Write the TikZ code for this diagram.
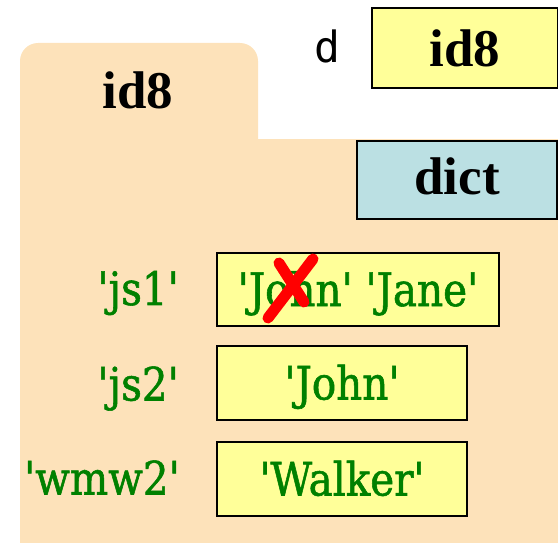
\documentclass[tikz,border=0pt]{standalone}
\usepackage{fontspec}
\setmainfont{Liberation Serif}
\newfontfamily\keyfont[Ligatures=ResetAll,FakeStretch=0.88,FakeBold=1.2]{DejaVu Serif}
\newfontfamily\varfont{DejaVu Sans Mono}
\definecolor{peach}{RGB}{253,226,186}
\definecolor{valyellow}{RGB}{255,255,153}
\definecolor{dictblue}{RGB}{187,224,227}
\definecolor{keygreen}{RGB}{0,128,0}
\definecolor{strikered}{RGB}{255,0,0}
\begin{document}
\begin{tikzpicture}[x=1pt,y=-1pt,
  box/.style={draw=black, line width=2.6pt, inner sep=0pt},
  boldtext/.style={font=\bfseries\fontsize{53}{60}\selectfont, text=black},
  keytext/.style={font=\keyfont\fontsize{46}{50}\selectfont, text=keygreen},
  valbox/.style={box, fill=valyellow, keytext, text height=34pt, text depth=1pt},
  keylabel/.style={keytext, inner sep=0pt, anchor=base east},
  varlabel/.style={font=\varfont\fontsize{43}{48}\selectfont, inner sep=0pt, anchor=base},
  strike/.style={draw=strikered, line width=11pt, line cap=round}]
\clip (0,0) rectangle (558,543);
% frame of the dict object
\fill[peach, rounded corners=18pt] (20,43) rectangle (258,170);
\fill[peach] (20,139) rectangle (570,560);
% variable d
\node[varlabel] (dname) at (327,63) {d};
\node[box, fill=valyellow, boldtext, minimum width=186pt, minimum height=80pt,
      text height=37pt, text depth=0pt] (dval) at (465,48) {id8};
% tab label and type
\node[boldtext, inner sep=0pt, anchor=base] (tabid) at (138,108.5) {id8};
\node[box, fill=dictblue, boldtext, minimum width=200pt, minimum height=78pt,
      text height=32pt, text depth=2pt] (dtype) at (457,180) {dict};
% entries
\node[valbox, minimum width=282pt, minimum height=73pt] (v1) at (358,289.5) {'John' 'Jane'};
\node[valbox, minimum width=250pt, minimum height=74pt] (v2) at (342,383) {'John'};
\node[valbox, minimum width=250pt, minimum height=74pt] (v3) at (342,479) {'Walker'};
\node[keylabel] (k1) at (179,305) {'js1'};
\node[keylabel] (k2) at (179,400.5) {'js2'};
\node[keylabel] (k3) at (180,494.5) {'wmw2'};
% crossed-out value
\draw[strike] (279,263) -- (304,302);
\draw[strike] (313,259) -- (268,318);
\end{tikzpicture}
\end{document}
